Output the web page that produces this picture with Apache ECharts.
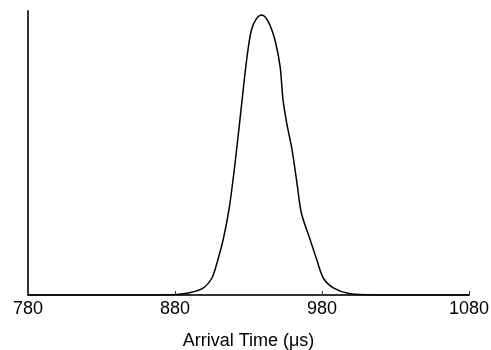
<!DOCTYPE html>
<html>
<head>
<meta charset="utf-8">
<script src="https://cdn.jsdelivr.net/npm/echarts@6/dist/echarts.min.js"></script>
<style>
  html, body { margin: 0; padding: 0; background: #fff; }
  #chart { width: 491px; height: 350px; }
</style>
</head>
<body>
<div id="chart"></div>
<script>
  // arrival time (us) and relative intensity
  var times = [780, 860, 879, 890, 899, 905, 908.5, 913, 917, 921, 925.5, 929, 932, 935.5, 939, 943.5, 948, 951.5, 953.5, 956, 959.5, 963, 966, 972, 976.5, 981, 988, 999, 1015, 1080];
  var counts = [0, 0, 0.001, 0.008, 0.024, 0.059, 0.112, 0.2, 0.31, 0.47, 0.68, 0.839, 0.933, 0.974, 0.986, 0.962, 0.898, 0.804, 0.687, 0.605, 0.515, 0.393, 0.288, 0.194, 0.123, 0.059, 0.024, 0.004, 0, 0];
  var xLabel = 'Arrival Time (μs)';

  var chart = echarts.init(document.getElementById('chart'));
  chart.setOption({
    animation: false,
    grid: { left: 28, right: 22, top: 11, bottom: 55, outerBoundsMode: 'none', containLabel: false },
    xAxis: {
      type: 'value',
      min: 780,
      max: 1080,
      interval: 100,
      name: xLabel,
      nameLocation: 'middle',
      nameGap: 37,
      nameTextStyle: { color: '#000', fontSize: 18, fontFamily: 'Liberation Sans' },
      axisLine: { lineStyle: { color: '#333', width: 2 } },
      axisTick: { inside: true, length: 4, lineStyle: { color: '#333' } },
      axisLabel: {
        color: '#000', fontSize: 18, fontFamily: 'Liberation Sans', margin: 5,
        formatter: function (v) { return String(v); }
      },
      splitLine: { show: false }
    },
    yAxis: {
      type: 'value',
      min: 0,
      max: 1,
      axisLine: { show: true, lineStyle: { color: '#333', width: 2 } },
      axisTick: { show: false },
      axisLabel: { show: false },
      splitLine: { show: false }
    },
    series: [{
      type: 'line',
      data: times.map(function (t, i) { return [t, counts[i]]; }),
      smooth: 0.3,
      showSymbol: false,
      lineStyle: { color: '#000', width: 1.5 }
    }]
  });
</script>
</body>
</html>
